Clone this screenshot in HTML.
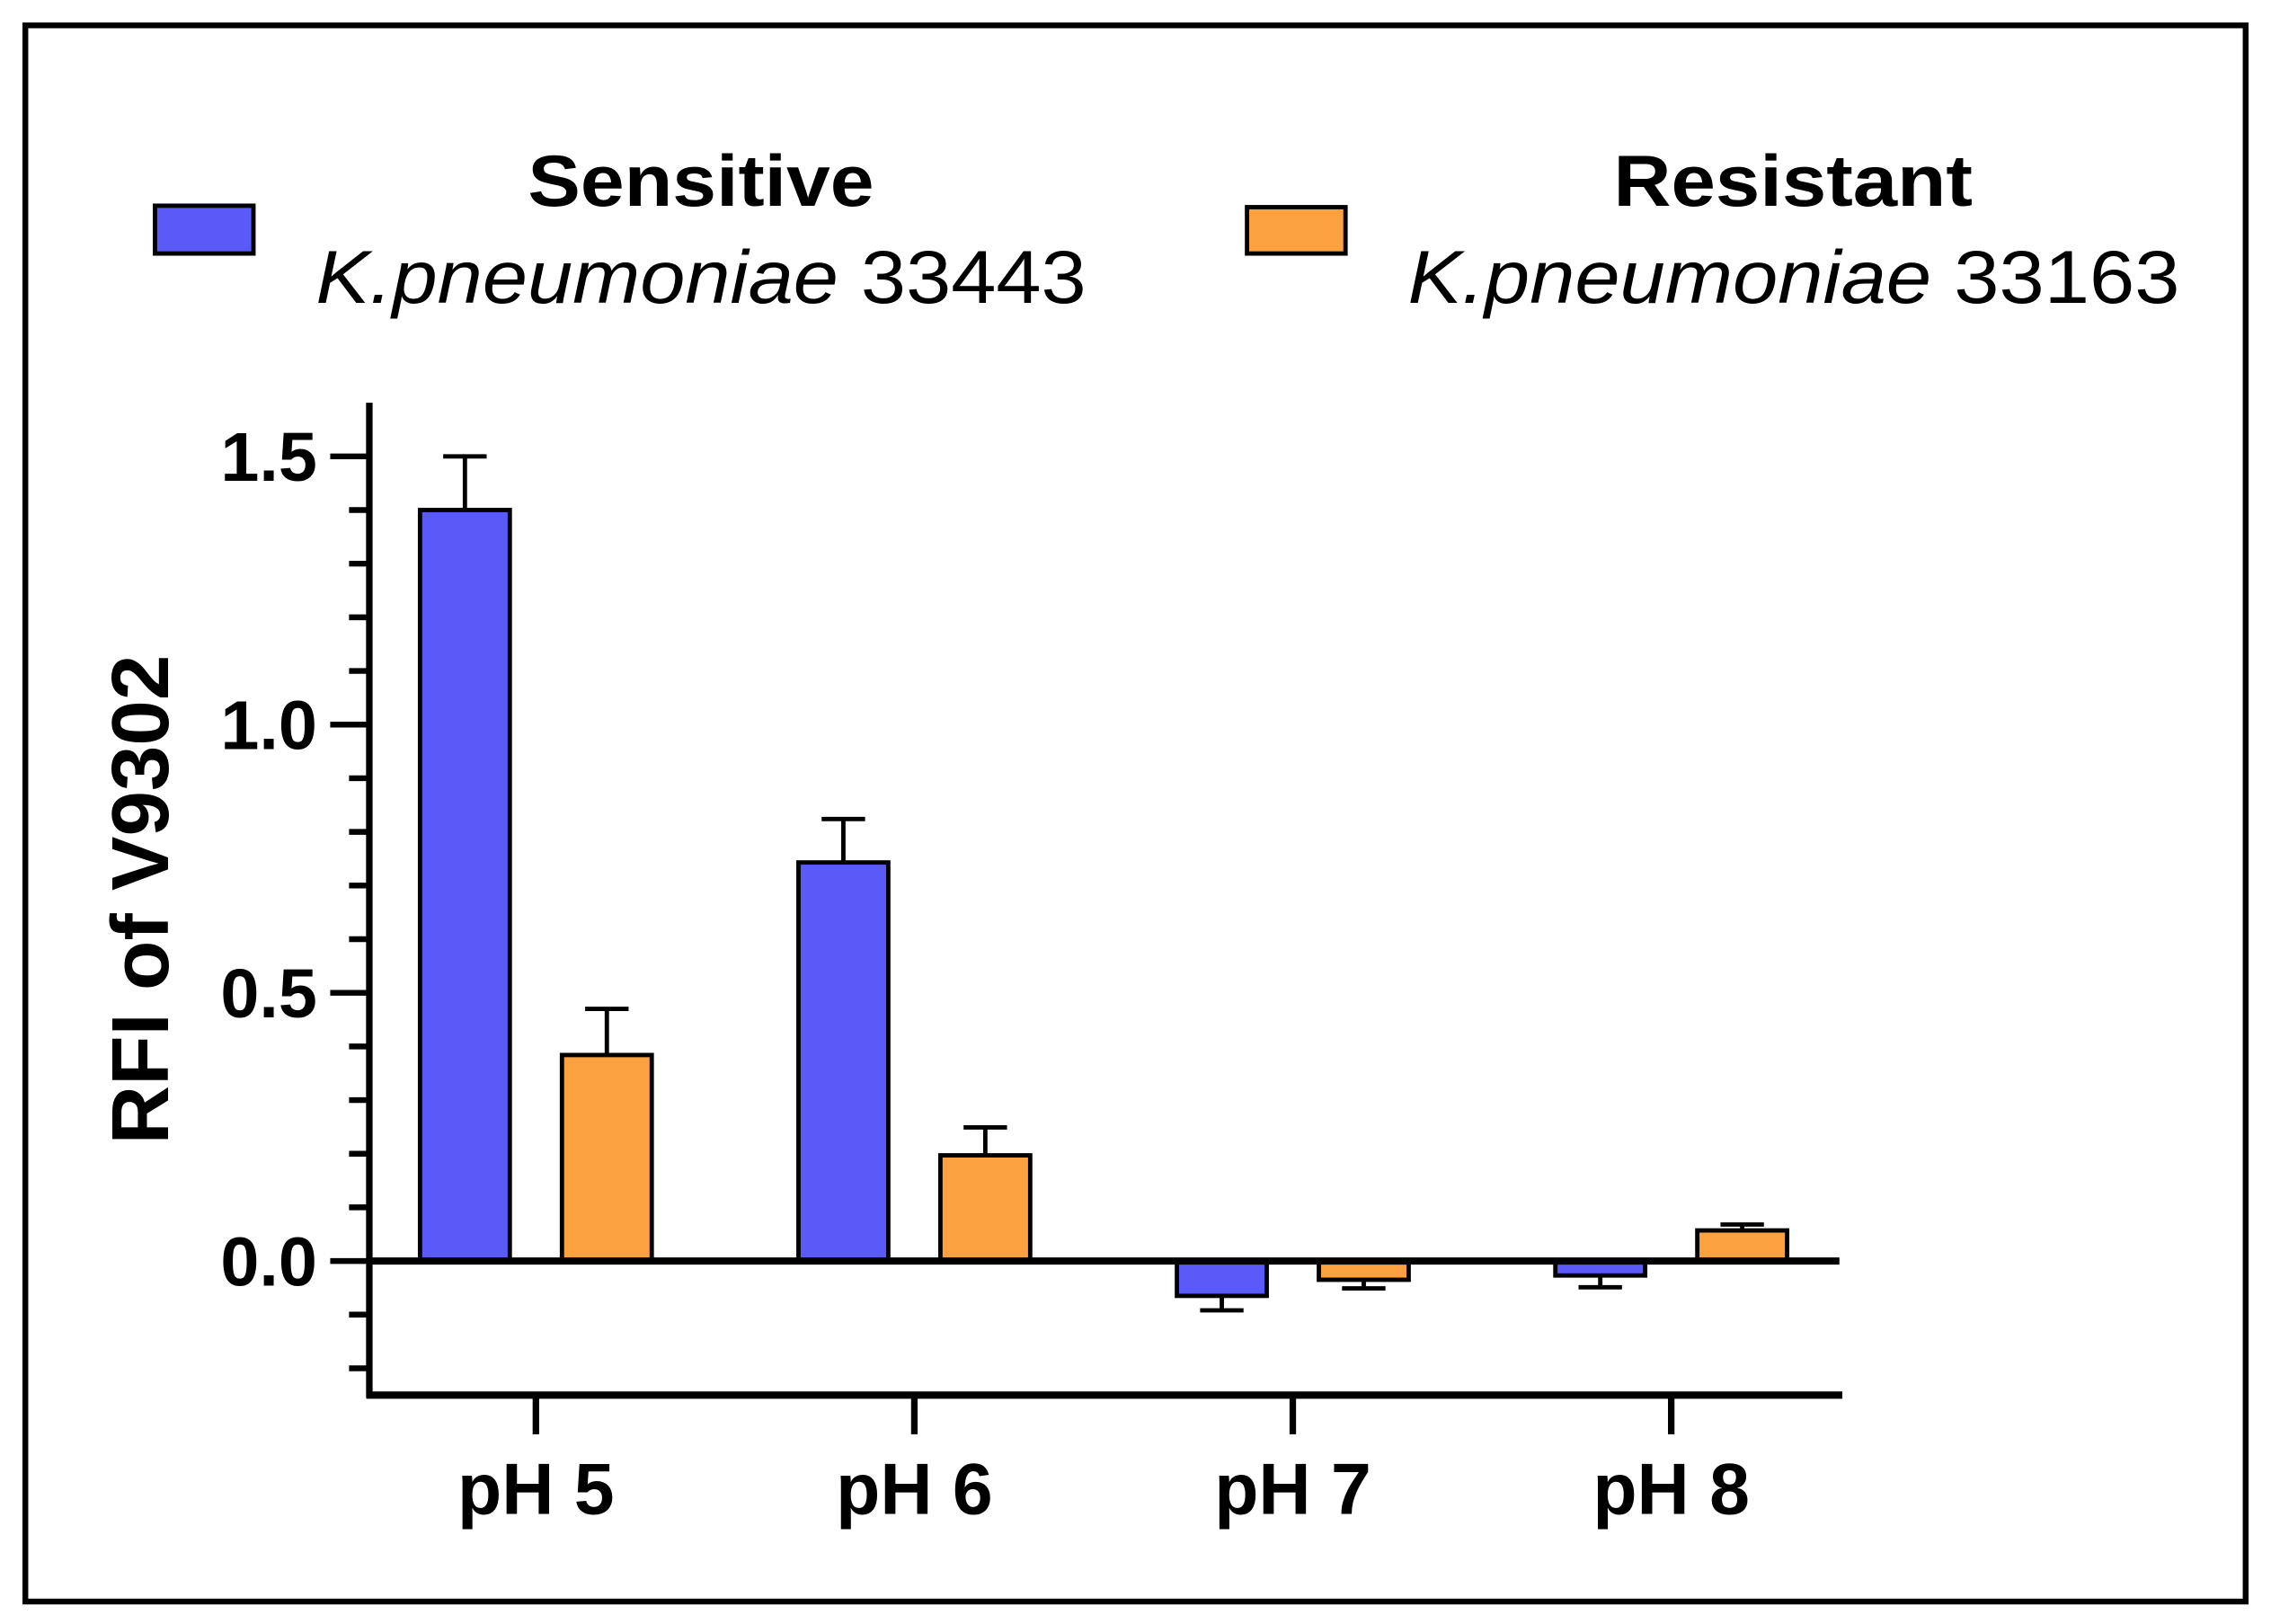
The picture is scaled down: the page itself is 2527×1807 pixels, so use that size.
<!DOCTYPE html>
<html><head><meta charset="utf-8"><style>
html,body{margin:0;padding:0;background:#fff;}
svg{display:block;font-family:"Liberation Sans",Arial,sans-serif;}
</style></head><body>
<svg id="chart" width="2527" height="1807" viewBox="0 0 1568 1121" preserveAspectRatio="none" xmlns="http://www.w3.org/2000/svg">
<rect x="17.5" y="17.5" width="1533" height="1088" fill="#fff" stroke="#000" stroke-width="4"/>
<g>
 <g>
  <rect x="107" y="142" width="68" height="33" fill="#5a5af8" stroke="#000" stroke-width="3"/>
  <text x="484" y="142" text-anchor="middle" font-size="50" font-weight="bold" textLength="239" lengthAdjust="spacingAndGlyphs">Sensitive</text>
  <text x="218" y="209" font-size="52" textLength="532" lengthAdjust="spacingAndGlyphs"><tspan font-style="italic">K.pneumoniae</tspan> 33443</text>
 </g>
 <g>
  <rect x="861" y="143" width="68" height="32" fill="#fca140" stroke="#000" stroke-width="3"/>
  <text x="1238" y="142" text-anchor="middle" font-size="50" font-weight="bold" textLength="248" lengthAdjust="spacingAndGlyphs">Resistant</text>
  <text x="972" y="209" font-size="52" textLength="533" lengthAdjust="spacingAndGlyphs"><tspan font-style="italic">K.pneumoniae</tspan> 33163</text>
 </g>
</g>
<text transform="translate(116,621) rotate(-90)" text-anchor="middle" font-size="56" font-weight="bold" textLength="338" lengthAdjust="spacingAndGlyphs">RFI of V9302</text>
<g id="plot"></g>
</svg>
<script>
const categories = ["pH 5","pH 6","pH 7","pH 8"];
const sensitiveValues = [1.40, 0.743, -0.065, -0.027];
const sensitiveErrors = [0.10, 0.081, 0.027, 0.022];
const resistantValues = [0.384, 0.197, -0.035, 0.057];
const resistantErrors = [0.086, 0.052, 0.016, 0.011];
const yTickLabels = ["0.0","0.5","1.0","1.5"];
const yTickValues = [0, 0.5, 1.0, 1.5];

const NS = "http://www.w3.org/2000/svg";
const plot = document.getElementById("plot");
const yMin = -0.25, yMax = 1.6, pyBottom = 963, pyTop = 278;
function y(v){ return pyBottom - (v - yMin) / (yMax - yMin) * (pyBottom - pyTop); }
const xLeft = 255, xRight = 1272;
function x(i){ return 370 + i * 261.3; }
function mk(tag, attrs){ const e = document.createElementNS(NS, tag); for (const k in attrs) e.setAttribute(k, attrs[k]); plot.appendChild(e); return e; }

const series = [
  {vals: sensitiveValues, errs: sensitiveErrors, color: "#5a5af8", off: -49, name: "sensitive"},
  {vals: resistantValues, errs: resistantErrors, color: "#fca140", off: 49, name: "resistant"}
];
const bw = 62;
series.forEach(s => {
  s.vals.forEach((v, i) => {
    const cx = x(i) + s.off;
    const top = Math.min(y(v), y(0)), h = Math.abs(y(v) - y(0));
    const ev = v >= 0 ? v + s.errs[i] : v - s.errs[i];
    const eb = mk("line", {x1: cx, x2: cx, y1: y(v), y2: y(ev), stroke: "#000", "stroke-width": 3});
    
    
    const cap = mk("line", {x1: cx - 15, x2: cx + 15, y1: y(ev), y2: y(ev), stroke: "#000", "stroke-width": 3});
    
    
    const r = mk("rect", {x: cx - bw/2, y: top, width: bw, height: h, fill: s.color, stroke: "#000", "stroke-width": 3});
    
    
  });
});

const zl = mk("line", {x1: xLeft, x2: 1270, y1: y(0), y2: y(0), stroke: "#000", "stroke-width": 5});



const ya = mk("line", {x1: xLeft, x2: xLeft, y1: pyTop, y2: pyBottom + 2, stroke: "#000", "stroke-width": 4.5});


for (let k = -2; k <= 15; k++) {
  const v = k / 10;
  const major = k % 5 === 0;
  const t = mk("line", {x1: major ? 228 : 241, x2: xLeft, y1: y(v), y2: y(v), stroke: "#000", "stroke-width": 4});
  
  
}
yTickValues.forEach((v, i) => {
  const t = mk("text", {x: 219, y: y(v) + 17, "text-anchor": "end", "font-size": 48, "font-weight": "bold"});
  t.textContent = yTickLabels[i];
  
  
});

const xa = mk("line", {x1: xLeft - 2, x2: xRight, y1: pyBottom, y2: pyBottom, stroke: "#000", "stroke-width": 5});


categories.forEach((c, i) => {
  const t = mk("line", {x1: x(i), x2: x(i), y1: pyBottom, y2: 990, stroke: "#000", "stroke-width": 4.5});
  
  
  const l = mk("text", {x: x(i), y: 1045, "text-anchor": "middle", "font-size": 50, "font-weight": "bold"});
  l.textContent = c;
  
  
});
</script>
</body></html>
